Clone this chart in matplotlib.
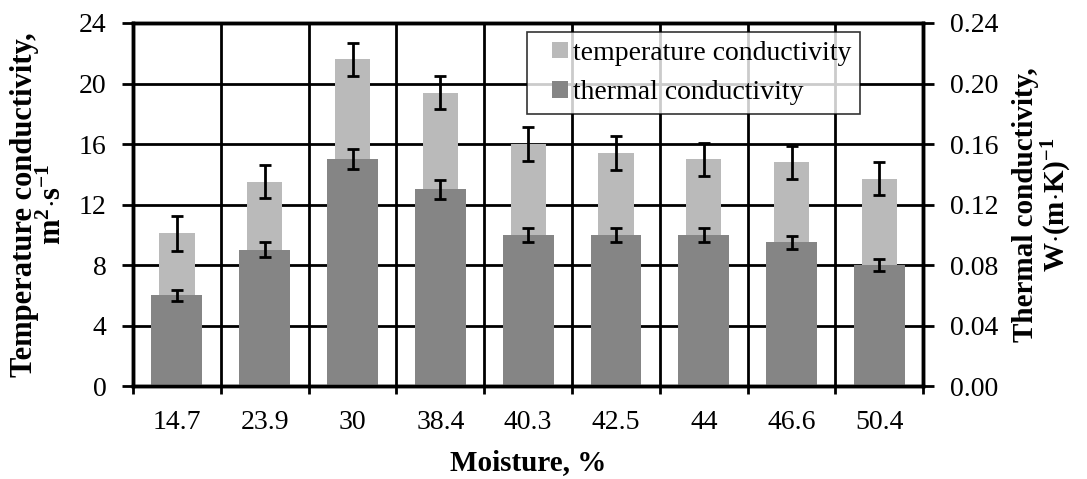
import numpy as np
from matplotlib import pyplot as plt
from matplotlib.legend_handler import HandlerPatch
from matplotlib.patches import Rectangle
from matplotlib.ticker import FixedLocator, MultipleLocator

# data
moisture = ["14.7", "23.9", "30", "38.4", "40.3", "42.5", "44", "46.6", "50.4"]
temp_cond = [10.1, 13.5, 21.6, 19.4, 16.0, 15.4, 15.0, 14.8, 13.7]
temp_err = [1.15, 1.1, 1.1, 1.1, 1.1, 1.15, 1.1, 1.1, 1.1]
therm_cond = [0.060, 0.090, 0.150, 0.130, 0.100, 0.100, 0.100, 0.095, 0.080]
therm_err = [0.0035, 0.005, 0.0065, 0.0065, 0.0045, 0.0045, 0.0045, 0.0045, 0.004]

plt.rcParams["font.family"] = ["Liberation Serif", "DejaVu Serif"]
plt.rcParams["font.size"] = 20
plt.rcParams["mathtext.fontset"] = "custom"
plt.rcParams["mathtext.rm"] = "Liberation Serif"
plt.rcParams["mathtext.bf"] = "Liberation Serif:bold"

light = "#bababa"
dark = "#858585"


def small_square(legend, orig_handle, xdescent, ydescent, width, height, fontsize):
    # square legend key pushed to the right end of the handle box
    side = 0.58 * fontsize
    return Rectangle((width - side - xdescent, (height - side) / 2 - ydescent),
                     side, side)


fig = plt.figure(figsize=(10.87, 4.79), dpi=100)
ax = fig.add_axes([0.1224, 0.194, 0.727, 0.758])
ax2 = ax.twinx()

x = np.arange(len(moisture))

b1 = ax.bar(x, temp_cond, width=0.40, color=light, zorder=2)
ax.errorbar(x, temp_cond, yerr=temp_err, fmt="none", ecolor="black",
            elinewidth=2, capsize=4, capthick=2, zorder=3)

b2 = ax2.bar(x, therm_cond, width=0.58, color=dark, zorder=2)
ax2.errorbar(x, therm_cond, yerr=therm_err, fmt="none", ecolor="black",
             elinewidth=2, capsize=4, capthick=2, zorder=3)

ax.set_xlim(-0.5, len(moisture) - 0.5)
ax.set_ylim(0, 24)
ax2.set_ylim(0, 0.24)
ax.yaxis.set_major_locator(MultipleLocator(4))
ax2.yaxis.set_major_locator(MultipleLocator(0.04))
ax2.yaxis.set_major_formatter(plt.FuncFormatter(lambda v, p: f"{v:.2f}"))

ax.set_xticks(x)
ax.set_xticklabels(moisture)
ax.xaxis.set_minor_locator(FixedLocator(np.arange(-0.5, len(moisture), 1.0)))
ax.tick_params(axis="x", which="major", length=0, pad=17)
ax.tick_params(axis="x", which="minor", length=6, width=2, direction="out")
ax.tick_params(axis="y", length=8, width=2, direction="out", pad=11)
ax2.tick_params(axis="y", length=8, width=2, direction="out", pad=11)

ax.grid(True, axis="y", color="black", linewidth=2, zorder=0)
ax.grid(True, axis="x", which="minor", color="black", linewidth=2, zorder=0)

for a in (ax, ax2):
    for s in a.spines.values():
        s.set_linewidth(2.5)

ax.set_xlabel("Moisture, %", fontweight="bold", fontsize=21, labelpad=10)
ax.set_ylabel("Temperature conductivity,\n$\\mathbf{m^2{\\cdot}s^{-1}}$",
              fontweight="bold", fontsize=22, linespacing=1.0, labelpad=8)
ax2.set_ylabel("Thermal conductivity,\n$\\mathbf{W{\\cdot}(m{\\cdot}K)^{-1}}$",
               fontweight="bold", fontsize=21, linespacing=1.05,
               rotation=90, labelpad=10)

leg = ax2.legend([b1[0], b2[0]],
                 ["temperature conductivity", "thermal conductivity"],
                 loc="upper left", bbox_to_anchor=(0.499, 0.975),
                 borderaxespad=0, frameon=True, fancybox=False,
                 edgecolor="black",
                 handler_map={Rectangle: HandlerPatch(patch_func=small_square)},
                 handlelength=1.15, handleheight=0.7, handletextpad=0.2,
                 borderpad=0.3, labelspacing=0.5, fontsize=20)
leg.get_frame().set_linewidth(1.2)

fig.savefig("out.png", dpi=100)
